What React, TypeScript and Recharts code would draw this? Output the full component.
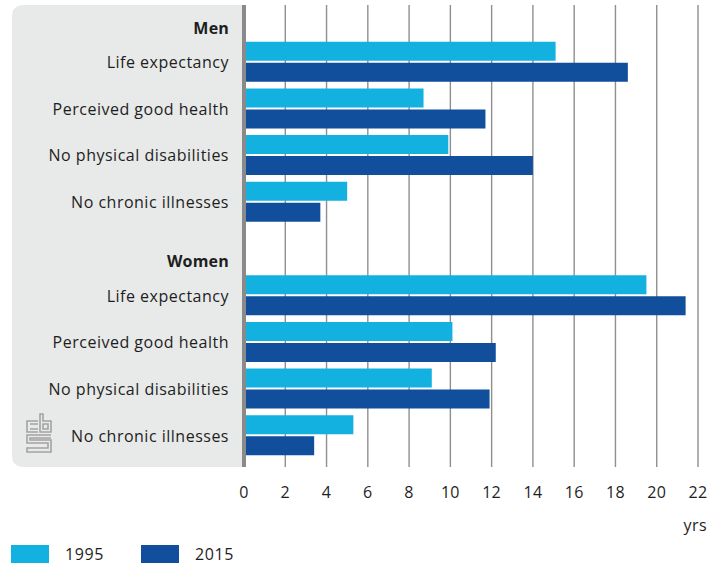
import React from 'react';
import { BarChart, Bar, XAxis, YAxis, CartesianGrid } from 'recharts';

// rows from top to bottom; header rows carry no bars
const rowLabels = [
  'Men',
  'Life expectancy',
  'Perceived good health',
  'No physical disabilities',
  'No chronic illnesses',
  'Women',
  'Life expectancy',
  'Perceived good health',
  'No physical disabilities',
  'No chronic illnesses',
];
const headerRows = ['Men', 'Women'];
const values1995 = [null, 15.1, 8.7, 9.9, 5.0, null, 19.5, 10.1, 9.1, 5.3];
const values2015 = [null, 18.6, 11.7, 14.0, 3.7, null, 21.4, 12.2, 11.9, 3.4];
const xTicks = [0, 2, 4, 6, 8, 10, 12, 14, 16, 18, 20, 22];

const LIGHT = '#12b1e0';
const DARK = '#114e9b';
const FONT = '"Open Sans", sans-serif';

const data = rowLabels.map((label, i) => ({
  key: `row${i}`,
  label,
  y1995: values1995[i],
  y2015: values2015[i],
}));

const RowTick = (props: any) => {
  const { x, y, payload } = props;
  const idx = data.findIndex((d) => d.key === payload.value);
  const label = idx >= 0 ? data[idx].label : '';
  const isHeader = headerRows.includes(label) && (idx === 0 || idx === 5);
  return (
    <text
      x={x}
      y={y + (isHeader ? 18.6 : 6)}
      textAnchor="end"
      fill="#1e1e1e"
      fontSize={16}
      fontWeight={isHeader ? 700 : 400}
      fontFamily={FONT}
      letterSpacing={isHeader ? 0.2 : 0.5}
    >
      {label}
    </text>
  );
};

const ValueTick = (props: any) => {
  const { x, y, payload } = props;
  return (
    <text x={x} y={y + 31} textAnchor="middle" fill="#1e1e1e" fontSize={16} fontFamily={FONT} letterSpacing={0.3}>
      {payload.value}
    </text>
  );
};

const CbsLogo = () => (
  <svg
    width={30}
    height={42}
    style={{ position: 'absolute', left: 24, top: 412 }}
    viewBox="0 0 30 42"
  >
    <g fill="none" stroke="#a3a3a3" strokeWidth={1.6}>
      <path d="M14 9 H3 V20 H14" />
      <path d="M6 12 H14 M6 17 H14" />
      <path d="M16 2 H19 V9 H27 V20 H16 Z" />
      <path d="M19 12 H24 V17 H19 Z" />
      <path d="M27 23 H3 V31 H24 V36 H3 V40 H27 V28 H6 V26 H27" />
    </g>
  </svg>
);

const App: React.FC = () => {
  return (
    <div style={{ position: 'absolute', left: 0, top: 0, width: 716, height: 565, background: '#fff', overflow: 'hidden' }}>
      <div
        style={{
          position: 'absolute',
          left: 12,
          top: 5,
          width: 234,
          height: 462,
          background: '#e8e9e9',
          borderRadius: '10px 0 0 10px',
        }}
      />
      <CbsLogo />
      <div style={{ position: 'absolute', left: 0, top: 0 }}>
        <BarChart
          width={716}
          height={565}
          data={data}
          layout="vertical"
          margin={{ top: 5, right: 18, bottom: 68, left: 0 }}
          barSize={19}
          barGap={2}
        >
          <CartesianGrid horizontal={false} stroke="#8f8f8f" strokeWidth={1.4} />
          <XAxis
            type="number"
            domain={[0, 22]}
            ticks={xTicks}
            interval={0}
            axisLine={false}
            tickLine={false}
            tickSize={0}
            tickMargin={0}
            height={30}
            tick={<ValueTick />}
          />
          <Bar dataKey="y1995" name="1995" fill={LIGHT} isAnimationActive={false} />
          <Bar dataKey="y2015" name="2015" fill={DARK} isAnimationActive={false} />
          <YAxis
            type="category"
            dataKey="key"
            width={244}
            padding={{ top: -13, bottom: 8 }}
            interval={0}
            tickLine={false}
            tickSize={0}
            tickMargin={15}
            axisLine={{ stroke: '#8a8a8a', strokeWidth: 4 }}
            tick={<RowTick />}
          />
        </BarChart>
      </div>
      <div
        style={{
          position: 'absolute',
          right: 9,
          top: 514,
          fontFamily: FONT,
          fontSize: 16,
          color: '#1e1e1e',
          letterSpacing: 0.4,
        }}
      >
        yrs
      </div>
      <div style={{ position: 'absolute', left: 11, top: 545, display: 'flex', fontFamily: FONT, fontSize: 16, color: '#1e1e1e', letterSpacing: 0.6 }}>
        <div style={{ width: 38, height: 18, background: LIGHT }} />
        <div style={{ marginLeft: 16, width: 60, height: 16, lineHeight: '16px', marginTop: 1 }}>1995</div>
        <div style={{ marginLeft: 16, width: 38, height: 18, background: DARK }} />
        <div style={{ marginLeft: 16, height: 16, lineHeight: '16px', marginTop: 1 }}>2015</div>
      </div>
    </div>
  );
};

export default App;
